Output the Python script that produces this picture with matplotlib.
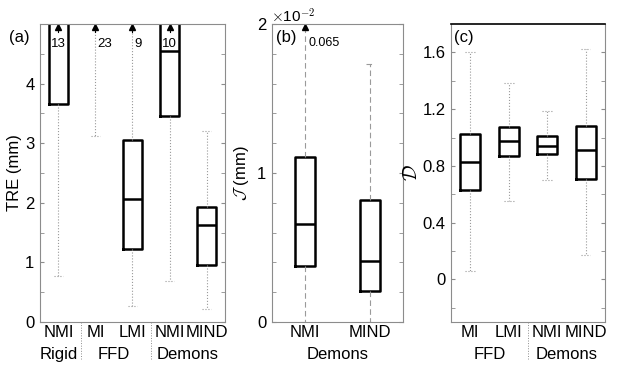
import numpy as np
import matplotlib.pyplot as plt
from matplotlib.transforms import blended_transform_factory

plt.rcParams['font.family'] = ['Liberation Sans', 'DejaVu Sans']
plt.rcParams['mathtext.fontset'] = 'cm'

############ data ####################
# (a) TRE, values above 5 mm are off the chart (max values shown as text)
tre_labels = ["NMI", "MI", "LMI", "NMI", "MIND"]
tre_groups = ["Rigid", "FFD", "Demons"]
tre_whislo = [0.78, 3.12, 0.26, 0.69, 0.22]
tre_q1 = [3.66, 5.6, 1.22, 3.46, 0.96]
tre_med = [6.0, 7.5, 2.07, 4.55, 1.62]
tre_q3 = [8.0, 10.0, 3.05, 6.5, 1.93]
tre_whishi = [13, 23, 9, 10, 3.20]
tre_max_txt = ["13", "23", "9", "10", None]

# (b) J, Demons only
j_labels = ["NMI", "MIND"]
j_whislo = [0.0, 0.0]
j_q1 = [0.00376, 0.00208]
j_med = [0.00658, 0.00410]
j_q3 = [0.01107, 0.00819]
j_whishi = [0.065, 0.01732]

# (c) D
d_labels = ["MI", "LMI", "NMI", "MIND"]
d_groups = ["FFD", "Demons"]
d_whislo = [0.057, 0.554, 0.703, 0.17]
d_q1 = [0.632, 0.867, 0.881, 0.711]
d_med = [0.824, 0.973, 0.938, 0.909]
d_q3 = [1.023, 1.073, 1.009, 1.080]
d_whishi = [1.605, 1.386, 1.186, 1.627]
#####################################

FS = 12


def stats(lo, q1, med, q3, hi):
    return [dict(whislo=a, q1=b, med=c, q3=d, whishi=e, fliers=[])
            for a, b, c, d, e in zip(lo, q1, med, q3, hi)]


def draw_box(ax, st, width, capw, ls):
    n = len(st)
    ax.bxp(st, positions=np.arange(1, n + 1), widths=width, capwidths=capw,
           showfliers=False,
           boxprops=dict(color='k', lw=1.8),
           medianprops=dict(color='k', lw=1.8),
           whiskerprops=dict(color='#9a9a9a', lw=0.8, ls=ls),
           capprops=dict(color='#9a9a9a', lw=0.8, ls=ls))
    ax.set_xlim(0.5, n + 0.5)


def style(ax):
    for s in ax.spines.values():
        s.set_color('#8c8c8c')
        s.set_linewidth(0.8)
    ax.tick_params(axis='y', which='both', direction='in', left=True,
                   right=True, color='#8c8c8c', labelsize=FS, pad=4)
    ax.tick_params(axis='y', which='major', length=3)
    ax.tick_params(axis='y', which='minor', length=3)
    ax.tick_params(axis='x', length=0, labelsize=FS, pad=2)


def groups(ax, names, centers, seps):
    tr = blended_transform_factory(ax.transData, ax.transAxes)
    for nm, c in zip(names, centers):
        ax.text(c, -0.085, nm, transform=tr, ha='center', va='top', fontsize=FS)
    for s in seps:
        ax.plot([s, s], [0, -0.125], transform=tr, color='#8c8c8c',
                lw=0.7, ls=':', clip_on=False)


fig = plt.figure(figsize=(6.18, 3.69), dpi=100)
bot, h = 0.1274, 0.8076

# ---------------- (a) ----------------
ax1 = fig.add_axes([0.0647, bot, 0.2994, h])
draw_box(ax1, stats(tre_whislo, tre_q1, tre_med, tre_q3, tre_whishi), 0.5, 0.25, ':')
ax1.set_ylim(0, 5)
ax1.set_yticks([0, 1, 2, 3, 4])
ax1.set_yticks(np.arange(0.5, 5, 1), minor=True)
ax1.set_xticks(np.arange(1, 6), tre_labels)
ax1.set_ylabel("TRE (mm)", fontsize=FS, labelpad=2)
style(ax1)
for i, t in enumerate(tre_max_txt):
    if t is None:
        continue
    x = i + 1
    ax1.plot([x, x], [4.86, 5.0], color='k', lw=0.8)
    ax1.plot(x, 4.95, marker='^', color='k', ms=4, clip_on=False)
    if tre_q1[i] < 5 and tre_q3[i] > 5:
        ax1.text(x, 4.67, t, ha='center', va='center', fontsize=9.5)
    else:
        ax1.text(x + 0.06, 4.67, t, ha='left', va='center', fontsize=9.5)
ax1.text(-0.11, 0.955, "(a)", transform=ax1.transAxes, fontsize=FS,
         ha='center', va='center')
groups(ax1, tre_groups, [1, 2.5, 4.5], [1.6, 3.5])

# ---------------- (b) ----------------
ax2 = fig.add_axes([0.440, bot, 0.212, h])
draw_box(ax2, stats(j_whislo, j_q1, j_med, j_q3, j_whishi), 0.3, 0.13, (0, (5, 3)))
ax2.set_ylim(0, 0.02)
ax2.set_yticks([0, 0.01, 0.02], ['0', '1', '2'])
ax2.set_yticks(np.arange(0.002, 0.02, 0.002), minor=True)
ax2.set_xticks([1, 2], j_labels)
ax2.set_ylabel(r"$\mathcal{J}$ (mm)", fontsize=FS, labelpad=4)
style(ax2)
ax2.plot(1, 0.0198, marker='^', color='k', ms=4, clip_on=False)
ax2.text(1.06, 0.0187, "%.3f" % j_whishi[0], fontsize=9, ha='left', va='center')
ax2.text(0.03, 0.955, "(b)", transform=ax2.transAxes, fontsize=FS,
         ha='left', va='center')
ax2.text(-0.01, 0.995, r"$\times$10$^{-2}$", transform=ax2.transAxes,
         fontsize=11, ha='left', va='bottom')
groups(ax2, ["Demons"], [1.5], [])

# ---------------- (c) ----------------
ax3 = fig.add_axes([0.7298, bot, 0.249, h])
draw_box(ax3, stats(d_whislo, d_q1, d_med, d_q3, d_whishi), 0.52, 0.25, ':')
ax3.set_ylim(-0.3, 1.8)
ax3.set_yticks([0, 0.4, 0.8, 1.2, 1.6], ['0', '0.4', '0.8', '1.2', '1.6'])
ax3.set_yticks(np.arange(-0.2, 1.8, 0.4), minor=True)
ax3.set_xticks(np.arange(1, 5), d_labels)
ax3.set_ylabel(r"$\mathcal{D}$", fontsize=14, labelpad=1)
style(ax3)
ax3.spines['top'].set_color('k')
ax3.spines['top'].set_linewidth(1.2)
ax3.text(0.02, 0.955, "(c)", transform=ax3.transAxes, fontsize=FS,
         ha='left', va='center')
groups(ax3, d_groups, [1.5, 3.5], [2.5])

plt.savefig("out.png", dpi=100)
